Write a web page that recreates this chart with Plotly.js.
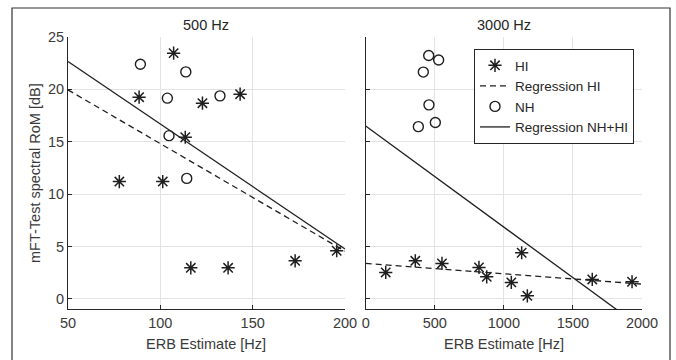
<!DOCTYPE html>
<html>
<head>
<meta charset="utf-8">
<script src="https://cdn.plot.ly/plotly-3.0.1.min.js"></script>
<style>html,body{margin:0;padding:0;background:#fff;}#chart{width:676px;height:360px;}</style>
</head>
<body>
<div id="chart"></div>
<script>
// 500 Hz panel
const hi500X = [77.8, 88.5, 101.3, 107.2, 113.5, 116.5, 122.8, 136.7, 143.2, 173.0, 195.5];
const hi500Y = [11.2, 19.25, 11.2, 23.46, 15.43, 2.96, 18.68, 2.96, 19.54, 3.63, 4.59];
const nh500X = [89.2, 103.8, 104.7, 113.8, 114.3, 132.3];
const nh500Y = [22.4, 19.16, 15.58, 21.67, 11.5, 19.38];
const regHi500X = [50, 200];
const regHi500Y = [19.95, 4.55];
const regAll500X = [50, 200];
const regAll500Y = [22.66, 4.75];

// 3000 Hz panel
const hi3000X = [145, 359, 552, 820, 876, 1054, 1129, 1170, 1640, 1928];
const hi3000Y = [2.52, 3.63, 3.38, 3.0, 2.1, 1.57, 4.4, 0.29, 1.85, 1.63];
const nh3000X = [381, 417, 456, 458, 504, 528];
const nh3000Y = [16.44, 21.65, 23.24, 18.52, 16.83, 22.8];
const regHi3000X = [0, 2000];
const regHi3000Y = [3.38, 1.41];
const regAll3000X = [0, 2000];
const regAll3000Y = [16.5, -2.8];

const titles = ["500 Hz", "3000 Hz"];
const xTitle = "ERB Estimate [Hz]";
const yTitle = "mFT-Test spectral RoM [dB]";
const legendNames = ["HI", "Regression HI", "NH", "Regression NH+HI"];
const xTicks500 = [50, 100, 150, 200];
const xTicks3000 = [0, 500, 1000, 1500, 2000];
const yTicks = [0, 5, 10, 15, 20, 25];

const ink = "#1f1f1f";
const txt = "#3a3a3a";
const FAM = "Liberation Sans, Arial, sans-serif";
const W = 676, H = 360;
const px = v => v / W, py = v => 1 - v / H;

const star = {symbol: "asterisk-open", size: 11, color: ink, line: {color: ink, width: 1.5}};
const ring = {symbol: "circle-open", size: 10, color: ink, line: {color: ink, width: 1.4}};
const dashLine = {color: ink, width: 1.3, dash: "6px,4px"};
const solidLine = {color: ink, width: 1.3};

const traces = [
  {x: regHi500X, y: regHi500Y, mode: "lines", line: dashLine, xaxis: "x", yaxis: "y", showlegend: false},
  {x: regAll500X, y: regAll500Y, mode: "lines", line: solidLine, xaxis: "x", yaxis: "y", showlegend: false},
  {x: hi500X, y: hi500Y, mode: "markers", marker: star, xaxis: "x", yaxis: "y", showlegend: false},
  {x: nh500X, y: nh500Y, mode: "markers", marker: ring, xaxis: "x", yaxis: "y", showlegend: false},
  {x: hi3000X, y: hi3000Y, mode: "markers", marker: star, xaxis: "x2", yaxis: "y2", name: legendNames[0], legendrank: 1},
  {x: regHi3000X, y: regHi3000Y, mode: "lines", line: dashLine, xaxis: "x2", yaxis: "y2", name: legendNames[1], legendrank: 2},
  {x: nh3000X, y: nh3000Y, mode: "markers", marker: ring, xaxis: "x2", yaxis: "y2", name: legendNames[2], legendrank: 3},
  {x: regAll3000X, y: regAll3000Y, mode: "lines", line: solidLine, xaxis: "x2", yaxis: "y2", name: legendNames[3], legendrank: 4}
];

const axisCommon = {
  showline: true, linecolor: "#262626", linewidth: 1, mirror: false,
  showgrid: true, gridcolor: "#e3e3e3", gridwidth: 1,
  zeroline: false, ticks: "inside", ticklen: 4, tickcolor: "#262626", tickwidth: 1,
  tickfont: {family: FAM, size: 14.5, color: txt},
  fixedrange: true
};

const yDomain = [py(309.3), py(37)];

const layout = {
  width: W, height: H,
  margin: {l: 0, r: 0, t: 0, b: 0, pad: 0},
  paper_bgcolor: "#fff", plot_bgcolor: "#fff",
  font: {family: FAM, size: 14.5, color: txt},
  xaxis: Object.assign({}, axisCommon, {domain: [px(68), px(345)], range: [50, 200], tickvals: xTicks500, anchor: "y"}),
  yaxis: Object.assign({}, axisCommon, {domain: yDomain, range: [-1, 25], tickvals: yTicks, anchor: "x"}),
  xaxis2: Object.assign({}, axisCommon, {domain: [px(365.7), px(642)], range: [0, 2000], tickvals: xTicks3000, anchor: "y2"}),
  yaxis2: Object.assign({}, axisCommon, {domain: yDomain, range: [-1, 25], tickvals: yTicks, showticklabels: false, anchor: "x2"}),
  showlegend: true,
  legend: {
    x: px(474), y: py(49), xanchor: "left", yanchor: "top",
    bgcolor: "#fff", bordercolor: "#262626", borderwidth: 1,
    font: {family: FAM, size: 13.5, color: "#262626"},
    tracegroupgap: 0, itemwidth: 30
  },
  shapes: [
    {type: "rect", xref: "paper", yref: "paper", x0: px(12), x1: px(670), y0: -0.2, y1: py(8), line: {color: "#333", width: 1.2}, fillcolor: "rgba(0,0,0,0)", layer: "below"}
  ],
  annotations: [
    {text: titles[0], xref: "paper", yref: "paper", x: px(206.5), y: py(25), showarrow: false, xanchor: "center", yanchor: "middle", font: {size: 14.5, color: "#262626"}},
    {text: titles[1], xref: "paper", yref: "paper", x: px(504), y: py(25), showarrow: false, xanchor: "center", yanchor: "middle", font: {size: 14.5, color: "#262626"}},
    {text: xTitle, xref: "paper", yref: "paper", x: px(206.5), y: py(344), showarrow: false, xanchor: "center", yanchor: "middle", font: {size: 14.5, color: txt}},
    {text: xTitle, xref: "paper", yref: "paper", x: px(504), y: py(344), showarrow: false, xanchor: "center", yanchor: "middle", font: {size: 14.5, color: txt}},
    {text: yTitle, xref: "paper", yref: "paper", x: px(35), y: py(173), showarrow: false, textangle: -90, xanchor: "center", yanchor: "middle", font: {size: 14.5, color: txt}}
  ]
};

Plotly.newPlot("chart", traces, layout, {displayModeBar: false, staticPlot: true});
</script>
</body>
</html>
